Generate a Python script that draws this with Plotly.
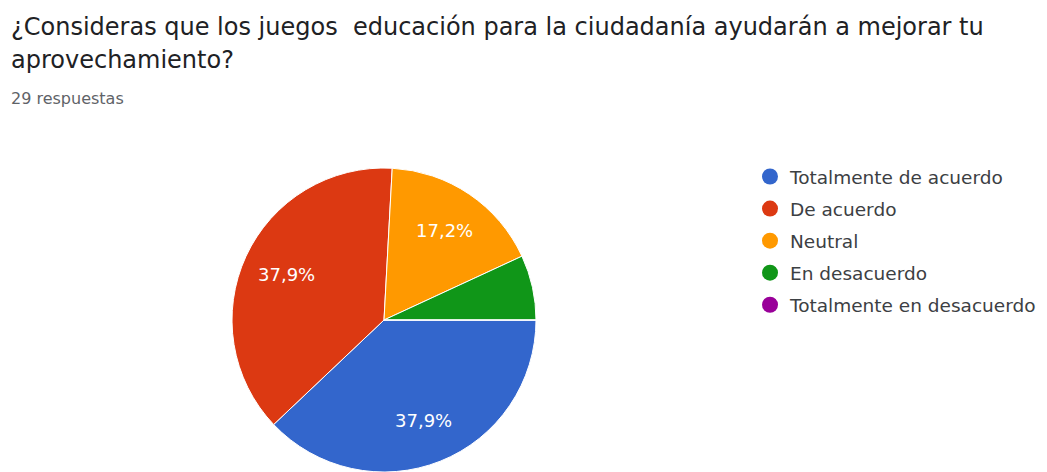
import math
import plotly.graph_objects as go

# Survey answers (29 responses)
labels = ["Totalmente de acuerdo", "De acuerdo", "Neutral", "En desacuerdo", "Totalmente en desacuerdo"]
counts = [11, 11, 5, 2, 0]
colors = ["#3366CC", "#DC3912", "#FF9900", "#109618", "#990099"]

title_line1 = "¿Consideras que los juegos  educación para la ciudadanía ayudarán a mejorar tu"
title_line2 = "aprovechamiento?"
subtitle = "29 respuestas"

FONT = "DejaVu Sans, Roboto, Arial, sans-serif"
W, H = 1047, 472
cx, cy, r = 384, 320, 152

total = sum(counts)

fig = go.Figure()
fig.add_trace(go.Pie(
    labels=labels,
    values=counts,
    textinfo="none",
    marker=dict(colors=colors, line=dict(color="white", width=1)),
    sort=False,
    direction="clockwise",
    rotation=90,
    showlegend=False,
    hoverinfo="label+percent",
    domain=dict(x=[(cx - r) / W, (cx + r) / W],
                y=[max(0.0, 1 - (cy + r) / H), 1 - (cy - r) / H]),
))

# Percent labels (decimal comma) placed along each slice's bisector;
# slices under 10% stay unlabeled
annotations = []
start = 0.0  # degrees clockwise from 3 o'clock
for c in counts:
    share = c / total
    sweep = share * 360
    if share >= 0.10:
        mid = math.radians(start + sweep / 2)
        px = cx + 0.71 * r * math.cos(mid)
        py = cy + 0.71 * r * math.sin(mid)
        annotations.append(dict(
            text=f"{share * 100:.1f}%".replace(".", ","),
            x=px / W, y=1 - py / H, xref="paper", yref="paper",
            xanchor="center", yanchor="middle", showarrow=False,
            font=dict(family=FONT, size=18, color="white"),
        ))
    start += sweep

# Circle-marker legend entries
for lab, col in zip(labels, colors):
    fig.add_trace(go.Scatter(
        x=[None], y=[None], mode="markers", name=lab, legendgroup=lab,
        marker=dict(symbol="circle", size=16, color=col),
    ))

annotations += [
    dict(text=title_line1, x=9 / W, y=1 - 27 / H, xref="paper", yref="paper",
         xanchor="left", yanchor="middle", showarrow=False,
         font=dict(family=FONT, size=24, color="#202124")),
    dict(text=title_line2, x=9 / W, y=1 - 60 / H, xref="paper", yref="paper",
         xanchor="left", yanchor="middle", showarrow=False,
         font=dict(family=FONT, size=24, color="#202124")),
    dict(text=subtitle, x=9 / W, y=1 - 98 / H, xref="paper", yref="paper",
         xanchor="left", yanchor="middle", showarrow=False,
         font=dict(family=FONT, size=16, color="#5f6368")),
]

fig.update_layout(
    width=W, height=H,
    margin=dict(l=0, r=0, t=0, b=0),
    paper_bgcolor="white",
    plot_bgcolor="white",
    xaxis=dict(visible=False),
    yaxis=dict(visible=False),
    legend=dict(
        x=750 / W, y=1 - 158 / H, xanchor="left", yanchor="top",
        font=dict(family=FONT, size=18.5, color="#3c4043"),
        tracegroupgap=5,
        bgcolor="rgba(0,0,0,0)",
    ),
    annotations=annotations,
)

fig.write_html("out.html")
